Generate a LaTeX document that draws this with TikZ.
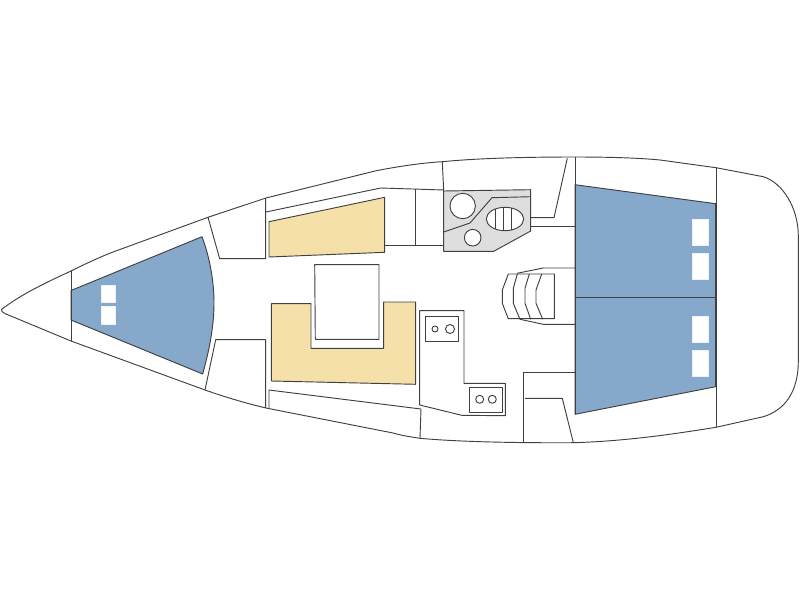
\documentclass[tikz,border=0pt]{standalone}
\usepackage{tikz}
\usepackage{xcolor}

\definecolor{cabinblue}{HTML}{86A8CB}
\definecolor{seatyellow}{HTML}{F6E0AA}
\definecolor{heatgray}{HTML}{DEDEDE}
\definecolor{planline}{HTML}{404040}
\tikzset{
  plan/.style={draw=planline,line width=0.7pt,line join=round},
  hatch/.style={fill=white,draw=white!85!cabinblue,line width=0.4pt}
}

\begin{document}
\begin{tikzpicture}[x=0.75pt,y=0.75pt,yscale=-1,xscale=1]
\useasboundingbox (0,0) rectangle (800,600);
\fill [white] (0,0) rectangle (800,600);

% berths
\draw [plan,fill=cabinblue]  (71,290.5) -- (202,236.7) .. controls (210,258) and (214,282) .. (214,303) .. controls (214,327) and (209,351) .. (202.7,374) -- (71,320) -- cycle ;
\draw [plan,fill=cabinblue]  (575,184.7) -- (715.7,203.7) -- (715.7,386.7) -- (575,414.3) -- cycle ;
\draw [plan]  (575,297.3) -- (715.7,297.3) ;
\draw [hatch]  (101.3,285.7) rectangle (115,302.7) ;
\draw [hatch]  (101.3,306.7) rectangle (115,324) ;
\draw [hatch]  (692.7,219.3) rectangle (708.7,245.3) ;
\draw [hatch]  (692.7,253.3) rectangle (708.7,279.3) ;
\draw [hatch]  (692.7,316) rectangle (708.7,342) ;
\draw [hatch]  (692.7,350) rectangle (708.7,376) ;

% saloon
\draw [plan,fill=seatyellow]  (269,221.7) -- (384.7,197.3) -- (384.7,252.3) -- (269,257) -- cycle ;
\draw [plan,fill=seatyellow]  (271.3,303.7) -- (311,303.7) -- (311,348.3) -- (383.7,348.3) -- (383.7,302) -- (415.7,302) -- (415.7,384.3) -- (271.3,381) -- cycle ;
\draw [plan]  (314.7,264.7) -- (379,264.7) -- (379,339.3) -- (315.3,339.3) -- cycle ;

% hull
\draw [plan]  (1.5,309.5) .. controls (20,295) and (45,283) .. (71,271) .. controls (85,264) and (100,257) .. (113,252) -- (208,217.3) -- (266,198) -- (375,171) .. controls (395,167) and (420,163) .. (442.3,161.7) .. controls (480,158) and (530,157) .. (575,157) .. controls (610,157) and (640,158) .. (660,160) -- (716,167.7) -- (763.3,176.7) .. controls (783,183) and (798,208) .. (798.3,235) -- (798.3,362) .. controls (798,392) and (785,410) .. (763.3,416.7) -- (716,427.3) .. controls (680,433) and (630,441) .. (573.7,442.7) .. controls (520,443) and (460,442) .. (420,438.3) .. controls (405,436) and (400,435) .. (393,433) -- (266,408) .. controls (245,403) and (225,397) .. (205,390) -- (71,341) -- (6,314) .. controls (2,312) and (1,311) .. (1.5,309.5) -- cycle ;
\draw [plan]  (71,271) -- (71,341) ;
\draw [plan]  (716,167.7) -- (716,427.3) ;
\draw [plan]  (575,157) -- (575,414.3) ;

% lockers
\draw [plan]  (208,217.3) -- (219.7,258.7) -- (265.7,258.7) -- (265.7,198) ;
\draw [plan]  (205,390) -- (215.7,339.7) -- (265.7,339.7) -- (265.7,408) ;
\draw [plan]  (266,212) -- (380.7,188) -- (444,190) ;
\draw [plan]  (415,189.3) -- (415,245.3) ;
\draw [plan]  (384.7,245.3) -- (444,245.3) ;
\draw [plan]  (269,408.7) -- (269,390) -- (421,409) -- (420,438.3) ;
\draw [plan]  (442.3,161.7) -- (443.7,191) ;
\draw [plan]  (567.3,158.3) -- (554,217.7) -- (530.7,217.7) ;
\draw [plan]  (530.7,226) -- (575,226) ;

% heads
\draw [plan,fill=heatgray]  (443.7,191) -- (530.7,189.7) -- (530.7,231) -- (493.7,251.3) -- (443.7,251.3) -- cycle ;
\draw [plan]  (443.7,232) -- (470,223) -- (492,197.7) -- (530.7,196.7) ;
\draw [plan,fill=white]  (462.7,206) circle [radius=12.7] ;
\draw [plan,fill=white]  (472.7,237.7) circle [radius=8.3] ;
\draw [plan,fill=white]  (505,219) ellipse [x radius=18.7,y radius=11.7] ;
\draw [plan]  (495,209.1) -- (495,228.9) ;
\draw [plan]  (503,207.4) -- (503,230.6) ;
\draw [plan]  (511,207.9) -- (511,230.1) ;

% steps
\draw [plan]  (517,273.3) -- (543.3,268) -- (575,268) ;
\draw [plan]  (520,319.3) -- (543.3,324.3) -- (575,324.3) ;
\draw [plan]  (508.3,274) -- (554.3,274) -- (554.3,318.7) -- (508.3,318.7) -- (502.3,303.3) -- (502.3,290) -- cycle ;
\draw [plan]  (517.3,274) -- (513.3,288.3) -- (513.3,303.3) -- (520,319.3) ;
\draw [plan]  (529.3,274) -- (525,288.3) -- (525,303.3) -- (530.7,319.3) ;
\draw [plan]  (541.7,274) -- (536,290) -- (536,303.3) -- (542.7,319.3) ;

% galley
\draw [plan]  (419.7,310.7) -- (464,310.7) -- (464,383.3) -- (505.3,383.3) -- (505.3,415.7) -- (461.7,415.3) -- (419.7,405) -- cycle ;
\draw [plan]  (425.3,316.3) rectangle (458.3,341.3) ;
\draw [plan]  (435,329) circle [radius=3] ;
\draw [plan]  (450,329) circle [radius=4.5] ;
\draw [plan]  (469.7,387) rectangle (502.3,412.3) ;
\draw [plan]  (479.7,399.3) circle [radius=4] ;
\draw [plan]  (492.3,399.3) circle [radius=4] ;

% aft locker
\draw [plan]  (523.7,442.5) -- (523.7,372.3) -- (575,372.3) ;
\draw [plan]  (525,398.3) -- (562.3,398.3) -- (573.3,442.5) ;

\end{tikzpicture}
\end{document}
